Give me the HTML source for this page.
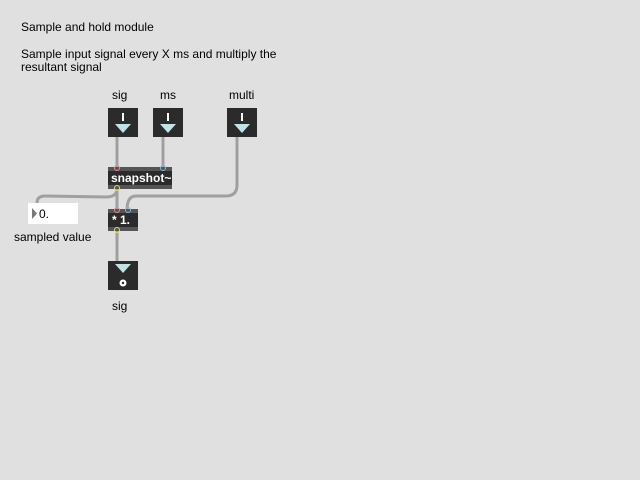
<!DOCTYPE html>
<html><head><style>
body{margin:0;background:#e0e0e0;}
svg{display:block;font-family:"Liberation Sans",Arial,sans-serif;}
</style></head><body>
<svg width="640" height="480" viewBox="0 0 640 480">
<rect width="640" height="480" fill="#e0e0e0"/>
<g font-size="12" fill="#000">
<text x="21" y="31">Sample and hold module</text>
<text x="21" y="58">Sample input signal every X ms and multiply the</text>
<text x="21" y="71">resultant signal</text>
<text x="112" y="99">sig</text>
<text x="160" y="99">ms</text>
<text x="229" y="99">multi</text>
<text x="14" y="241">sampled value</text>
<text x="112" y="310">sig</text>
</g>
<g stroke="#a0a0a0" stroke-width="3" fill="none">
<line x1="117" y1="137" x2="117" y2="168"/>
<line x1="163" y1="137" x2="163" y2="168"/>
<line x1="237" y1="137" x2="237" y2="185"/>
<path d="M237,185 Q237,196 226,196 L136,196 Q127,196 127,210"/>
<line x1="117" y1="189" x2="117" y2="210"/>
<path d="M117,189 Q117,197 106,197 L45,196 Q37,196 37,203"/>
<line x1="117" y1="231" x2="117" y2="262"/>
</g>
<g>
<rect x="108" y="108" width="30" height="29" fill="#2b2b2b"/>
<rect x="153" y="108" width="30" height="29" fill="#2b2b2b"/>
<rect x="227" y="108" width="30" height="29" fill="#2b2b2b"/>
<g fill="#fff"><rect x="122" y="113" width="2" height="8"/><rect x="167" y="113" width="2" height="8"/><rect x="241" y="113" width="2" height="8"/></g>
<g fill="#bfe3e6"><polygon points="115,124 131,124 123,133"/><polygon points="160,124 176,124 168,133"/><polygon points="234,124 250,124 242,133"/></g>
</g>
<rect x="108" y="167" width="64" height="22" fill="#2b2b2b"/>
<rect x="108" y="167" width="64" height="4" fill="#555"/>
<rect x="108" y="185" width="64" height="4" fill="#555"/>
<text x="111" y="182" font-size="12" font-weight="bold" fill="#fff">snapshot~</text>
<circle cx="117" cy="168" r="2.5" fill="none" stroke="#e88" stroke-width="1"/>
<circle cx="163" cy="168" r="2.5" fill="none" stroke="#7bd" stroke-width="1"/>
<circle cx="117" cy="188" r="2.5" fill="none" stroke="#dd6" stroke-width="1"/>
<rect x="108" y="209" width="30" height="22" fill="#2b2b2b"/>
<rect x="108" y="209" width="30" height="4" fill="#555"/>
<rect x="108" y="227" width="30" height="4" fill="#555"/>
<text x="112" y="224" font-size="12" font-weight="bold" fill="#fff">* 1.</text>
<circle cx="117" cy="210" r="2.5" fill="none" stroke="#e88" stroke-width="1"/>
<circle cx="128" cy="210" r="2.5" fill="none" stroke="#7bd" stroke-width="1"/>
<circle cx="117" cy="230" r="2.5" fill="none" stroke="#dd6" stroke-width="1"/>
<rect x="28" y="203" width="50" height="21" fill="#fff"/>
<polygon points="32,208 37,213.5 32,219" fill="#777"/>
<text x="39" y="218" font-size="12" fill="#000">0.</text>
<rect x="108" y="261" width="30" height="29" fill="#2b2b2b"/>
<polygon points="115,264 131,264 123,273" fill="#bfe3e6"/>
<circle cx="123" cy="283" r="3.5" fill="#fff"/>
<circle cx="123" cy="283" r="1.2" fill="#2b2b2b"/>
</svg>
</body></html>
